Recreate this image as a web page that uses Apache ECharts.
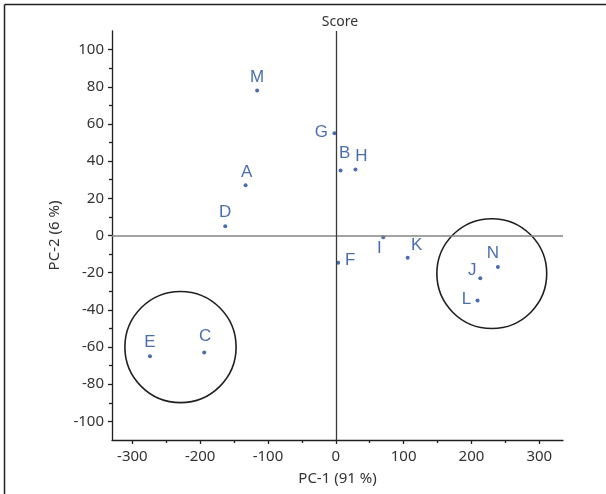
<!DOCTYPE html>
<html>
<head>
<meta charset="utf-8">
<script src="https://cdn.jsdelivr.net/npm/echarts@6/dist/echarts.min.js"></script>
<style>html,body{margin:0;padding:0;background:#fff;}#c{width:606px;height:494px;}</style>
</head>
<body>
<div id="c"></div>
<script>
// ---- data ----
const names = ['A','B','C','D','E','F','G','H','I','J','K','L','M','N'];
const pc1 = [-133, 7, -194, -163, -274, 3.5, -2, 29, 70, 213, 106, 209, -116, 239];
const pc2 = [27, 35, -63, 5, -65, -14.6, 55, 35.5, -1, -23, -12, -35, 78, -17];
const xTicks = [-300, -200, -100, 0, 100, 200, 300];
const xMinorTicks = [-250, -150, -50, 50, 150, 250];
const yTicks = [-100, -80, -60, -40, -20, 0, 20, 40, 60, 80, 100];
const yMinorTicks = [-90, -70, -50, -30, -10, 10, 30, 50, 70, 90];
const circleCx = [230, -229];
const circleCy = [-20.5, -60];
const circleR = [81, 82]; // in PC-1 units

// ---- styles ----
const labelOffsets = {M:[0,-13], G:[-13,-1], B:[4,-17], H:[6,-13], A:[1,-13], D:[0,-14],
  I:[-4,11], F:[12,-2], K:[9,-12], N:[-5,-14], J:[-8,-8], L:[-11,-1], E:[0,-14], C:[1,-16]};
const blue = '#1c4899';
const axisColor = '#231f20';
const tickFont = {fontFamily: 'Noto Sans', fontSize: 15, color: '#333'};

const chart = echarts.init(document.getElementById('c'));
const XMIN = -330, XMAX = 335, YMIN = -110, YMAX = 110;

const pointData = names.map((n, i) => ({
  name: n, value: [pc1[i], pc2[i]],
  label: {offset: labelOffsets[n]}
}));
const circleData = circleCx.map((cx, i) => [cx, circleCy[i], circleR[i]]);

chart.setOption({
  animation: false,
  title: {
    text: 'Score', left: 335, top: 10, textAlign: 'center',
    textStyle: {fontFamily: 'Noto Sans', fontSize: 14, fontWeight: 'normal', color: '#333'}
  },
  grid: {left: 112, right: 43, top: 31, bottom: 54, containLabel: false},
  xAxis: [{
    type: 'value', min: XMIN, max: XMAX,
    name: 'PC-1 (91 %)', nameLocation: 'middle', nameGap: 31,
    nameTextStyle: tickFont,
    axisLine: {show: true, onZero: false, lineStyle: {color: axisColor, width: 1.3}},
    axisTick: {show: true, customValues: xTicks, length: 4, lineStyle: {color: axisColor, width: 1.3}},
    axisLabel: {customValues: xTicks, margin: 9, ...tickFont},
    splitLine: {show: false}
  }, {
    type: 'value', min: XMIN, max: XMAX, position: 'bottom',
    axisLine: {show: false, onZero: false},
    axisTick: {show: true, customValues: xMinorTicks, length: 3, lineStyle: {color: axisColor, width: 1.3}},
    axisLabel: {show: false}, splitLine: {show: false}
  }],
  yAxis: [{
    type: 'value', min: YMIN, max: YMAX,
    name: 'PC-2 (6 %)', nameLocation: 'middle', nameGap: 42,
    nameTextStyle: tickFont,
    axisLine: {show: true, onZero: false, lineStyle: {color: axisColor, width: 1.3}},
    axisTick: {show: true, customValues: yTicks, length: 4, lineStyle: {color: axisColor, width: 1.3}},
    axisLabel: {customValues: yTicks, margin: 8, ...tickFont},
    splitLine: {show: false}
  }, {
    type: 'value', min: YMIN, max: YMAX, position: 'left',
    axisLine: {show: false, onZero: false},
    axisTick: {show: true, customValues: yMinorTicks, length: 3, lineStyle: {color: axisColor, width: 1.3}},
    axisLabel: {show: false}, splitLine: {show: false}
  }],
  graphic: [
    {type: 'line', shape: {x1: 4.5, y1: 4.5, x2: 606, y2: 4.5}, style: {stroke: '#222', lineWidth: 1.5}},
    {type: 'line', shape: {x1: 4.5, y1: 4.5, x2: 4.5, y2: 494}, style: {stroke: '#222', lineWidth: 1.5}}
  ],
  series: [{
    type: 'scatter', xAxisIndex: 0, yAxisIndex: 0,
    data: pointData,
    symbol: 'circle', symbolSize: 4,
    itemStyle: {color: blue},
    label: {
      show: true, position: 'inside', formatter: '{b}',
      fontFamily: 'Liberation Sans', fontSize: 17, color: blue
    },
    markLine: {
      silent: true, symbol: 'none', label: {show: false},
      data: [
        {yAxis: 0, lineStyle: {color: '#858585', width: 1.6, type: 'solid'}},
        {xAxis: 0, lineStyle: {color: '#3a3a3a', width: 1.3, type: 'solid'}}
      ]
    },
    z: 3
  }, {
    type: 'custom', xAxisIndex: 0, yAxisIndex: 0,
    data: circleData,
    renderItem: function (params, api) {
      const c = api.coord([api.value(0), api.value(1)]);
      const r = api.size([api.value(2), 0])[0];
      return {type: 'circle', shape: {cx: c[0], cy: c[1], r: r},
        style: {fill: 'none', stroke: '#231f20', lineWidth: 1.6}};
    },
    z: 2
  }]
});
</script>
</body>
</html>
